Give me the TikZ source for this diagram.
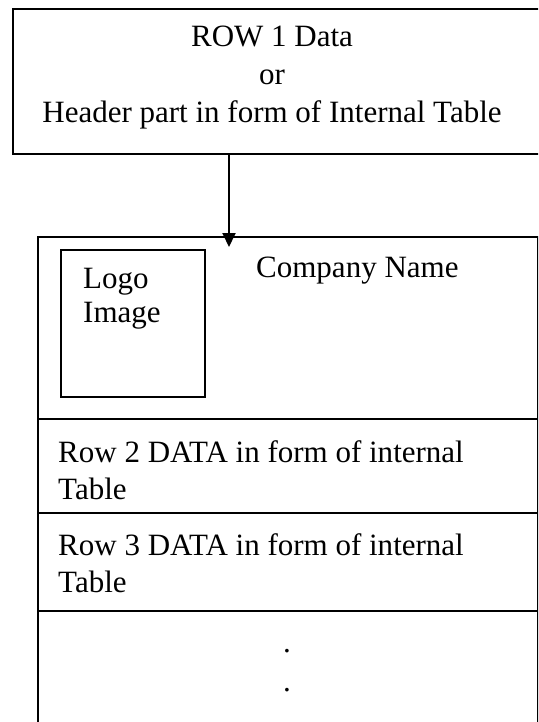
\documentclass[tikz,border=0pt]{standalone}
\usepackage{fontspec}
\setmainfont{Liberation Serif}
\usetikzlibrary{arrows.meta}

\begin{document}
\begin{tikzpicture}[x=1pt,y=-1pt,
box/.style={draw,line width=2pt,inner sep=0pt,anchor=north west},
txt/.style={inner sep=0pt,font=\fontsize{31}{37}\selectfont},
rowline/.style={line width=2pt}]
\useasboundingbox (0,0) rectangle (538,722);
\clip (0,0) rectangle (538,722);
\node[box,minimum width=580,minimum height=145] (row1) at (12,8) {};
\node[txt,anchor=base,align=center,font=\fontsize{31}{38}\selectfont] (hdr) at (272,123)
  {ROW 1 Data\\or\\Header part in form of Internal Table};
\node[box,minimum width=500,minimum height=540] (main) at (37,236) {};
\node[box,line width=1.8pt,minimum width=144,minimum height=147] (logo) at (60,249) {};
\node[txt,anchor=base west,align=left,font=\fontsize{31}{34}\selectfont] (logotxt) at (83,322) {Logo\\Image};
\node[txt,anchor=base west] (company) at (256,277) {Company Name};
\foreach \y in {419,513,611}
  \draw[rowline] (37,\y) -- (537,\y);
\node[txt,anchor=base west,align=left] (row2) at (58,499) {Row 2 DATA in form of internal\\Table};
\node[txt,anchor=base west,align=left] (row3) at (58,592) {Row 3 DATA in form of internal\\Table};
\node[txt,anchor=base,align=center,font=\fontsize{31}{39}\selectfont] (dots) at (287,691) {.\\.};
\coordinate (a) at (229,0);
\draw[line width=2pt,-{Triangle[length=14pt,width=13pt]},shorten >=-11pt]
  (row1.south -| a) -- (main.north -| a);
\end{tikzpicture}
\end{document}
